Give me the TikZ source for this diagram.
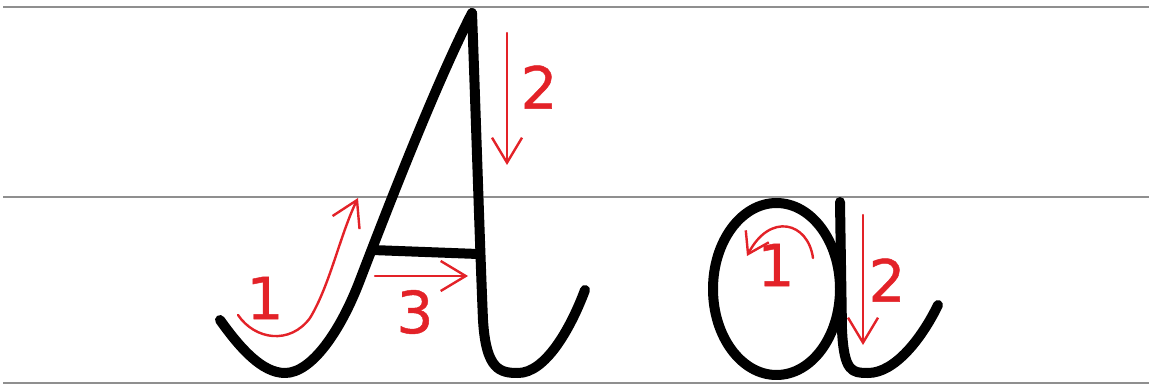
\documentclass[tikz,border=0pt]{standalone}
\usepackage{fontspec}
\newfontfamily\digitfont[FakeBold=0.8]{DejaVu Sans}
\usetikzlibrary{arrows.meta}
\definecolor{ruleline}{HTML}{8F8F8F}
\definecolor{hintred}{HTML}{E32228}

\begin{document}
\begin{tikzpicture}[
    x=1pt, y=-1pt,
    >={Straight Barb[length=25pt,width=30pt]},
    guide/.style = {draw=ruleline, line width=1.6pt},
    ink/.style   = {draw=black, line width=10pt, line cap=round,
                    line join=round},
    hint/.style  = {draw=hintred, line width=2.4pt, line cap=round, ->},
    num/.style   = {text=hintred, inner sep=0pt,
                    font=\digitfont\fontsize{58}{58}\selectfont},
  ]
  \useasboundingbox (0,0) rectangle (1149,385);

  % ===================================================================
  % Writing lines (top, middle, base)
  % ===================================================================
  \draw[guide] (3,7)   -- (1149,7);
  \draw[guide] (3,197) -- (1149,197);
  \draw[guide] (3,383) -- (1149,383);

  % ===================================================================
  % Capital A
  % ===================================================================
  \coordinate (apex) at (472,13);
  \draw[ink] (220,320) .. controls (240,348) and (262,373) .. (285,373)
    .. controls (312,373) and (341,330) .. (360,280)
    .. controls (385,215) and (435,85) .. (apex);
  \draw[ink] (apex) .. controls (476,120) and (480,250) .. (483,320)
    .. controls (486,370) and (500,373) .. (518,373)
    .. controls (545,373) and (570,330) .. (585,290);
  \draw[ink] (372,250) -- (478,254);

  % stroke order hints for A
  \coordinate (A1s) at (238,315);
  \coordinate (A1m) at (310,318);
  \coordinate (A1e) at (358,198);
  \draw[hint] (A1s) .. controls (255,340) and (290,345) .. (A1m)
    .. controls (330,285) and (340,235) .. (A1e);
  \node[num] (A1n) at (265,298) {1};

  \coordinate (A2s) at (507,33);
  \coordinate (A2e) at (507,165);
  \draw[hint] (A2s) -- (A2e);
  \node[num] (A2n) at (539,87) {2};

  \coordinate (A3s) at (375,276);
  \coordinate (A3e) at (468,276);
  \draw[hint] (A3s) -- (A3e);
  \node[num] (A3n) at (415,312) {3};

  % ===================================================================
  % Small a
  % ===================================================================
  \draw[ink] (776.5,289) ellipse [x radius=63.5, y radius=86];
  \draw[ink] (840,202) -- (842,330)
    .. controls (844,372) and (852,373) .. (868,373)
    .. controls (895,373) and (922,338) .. (938,305);

  % stroke order hints for a
  \coordinate (a1s) at (813,258);
  \coordinate (a1e) at (747,256);
  \draw[hint, -{Straight Barb[length=20pt,width=26pt]}]
    (a1s) .. controls (808,222) and (770,212) .. (a1e);
  \node[num] (a1n) at (776,265) {1};

  \coordinate (a2s) at (863,215);
  \coordinate (a2e) at (863,345);
  \draw[hint] (a2s) -- (a2e);
  \node[num] (a2n) at (887,280) {2};

\end{tikzpicture}
\end{document}
